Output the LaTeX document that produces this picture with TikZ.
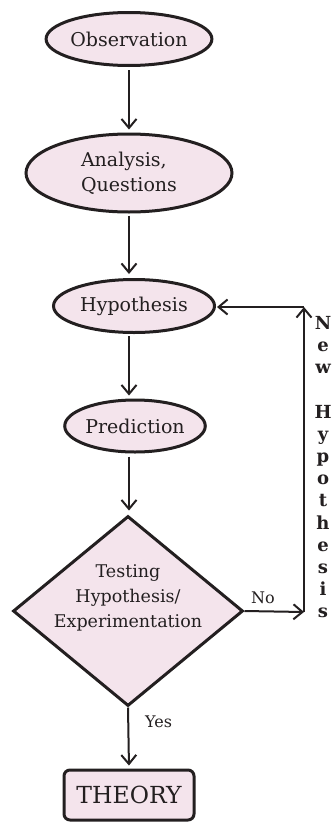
\documentclass[tikz,border=0pt]{standalone}
\usepackage{fontspec}
\setmainfont{DejaVu Serif}
\usetikzlibrary{shapes.geometric,arrows.meta}
\definecolor{boxfill}{RGB}{244,228,236}
\definecolor{ink}{RGB}{35,31,32}
\tikzset{
  x=1pt, y=-1pt,
  base/.style={draw=ink, fill=boxfill, line width=3pt, inner sep=0pt, text=ink},
  oval/.style={base, ellipse, font=\fontsize{19}{25}\selectfont},
  arr/.style={draw=ink, line width=2pt, -{Straight Barb[length=9pt,width=15pt,line width=2pt]}},
  lbl/.style={text=ink, font=\fontsize{16}{20}\selectfont, inner sep=0pt},
}
\begin{document}
\begin{tikzpicture}
\useasboundingbox (0,0) rectangle (334,822);

% process steps
\node[oval, minimum width=161, minimum height=53] (obs) at (129,39) {Observation};
\node[oval, minimum width=206, minimum height=78, align=left] (ana) at (129,173) {Analysis,\\Questions};
\node[oval, minimum width=161, minimum height=53] (hyp) at (134,306) {Hypothesis};
\node[oval, minimum width=137, minimum height=52] (pred) at (135,426) {Prediction};

% decision
\node[base, diamond, minimum width=230, minimum height=190] (test) at (128,611) {};
\node[text=ink, align=center, inner sep=0pt, font=\fontsize{17.5}{25}\selectfont] (testtxt) at (128,598)
  {Testing\\Hypothesis/\\Experimentation};

% result
\node[base, rectangle, rounded corners=6pt, minimum width=130, minimum height=50,
      font=\fontsize{23.5}{26}\selectfont] (theory) at (129,795) {THEORY};

% main flow
\draw[arr, shorten <=3pt, shorten >=3pt] (obs.south) -- (ana.north);
\draw[arr, shorten <=2pt, shorten >=4pt] (ana.south) -- (ana.south |- hyp.north);
\draw[arr, shorten <=2pt, shorten >=3pt] (ana.south |- hyp.south) -- (ana.south |- pred.north);
\draw[arr, shorten <=3pt, shorten >=4pt] (ana.south |- pred.south) -- (ana.south |- test.north);
\draw[arr, shorten >=3pt] (test.south) -- (theory.north);
\node[lbl, anchor=west] (yes) at (145,722) {Yes};

% feedback loop
\coordinate (loopbot) at (304,612);
\coordinate (looptop) at (304,307);
\draw[arr] (test.east) -- (loopbot);
\node[lbl] (no) at (263,598) {No};
\draw[arr] (loopbot) -- (looptop);
\draw[arr, shorten >=1pt] (looptop) -- (hyp.east |- looptop);

% vertical caption of the loop
\node[text=ink, anchor=north, align=center, inner sep=0pt,
      font=\fontsize{18}{22.2}\selectfont\bfseries] (newhyp) at (323,316)
  {N\\e\\w\\[22.2pt]H\\y\\p\\o\\t\\h\\e\\s\\i\\s};
\end{tikzpicture}
\end{document}
